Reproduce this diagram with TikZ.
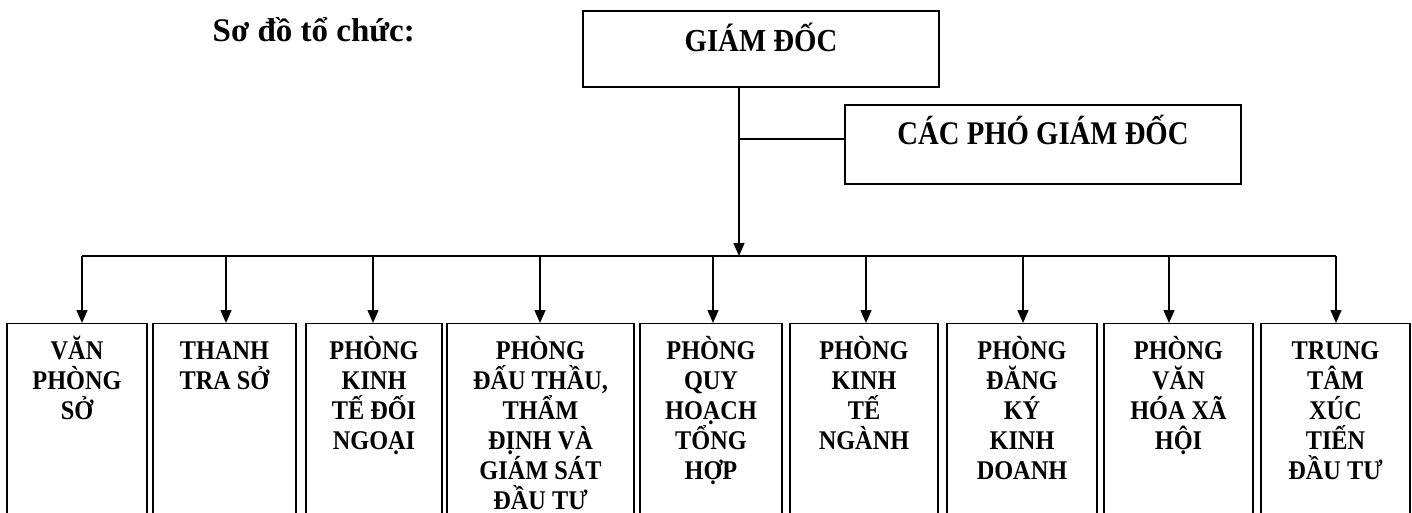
\documentclass[tikz,border=0pt]{standalone}
\usepackage{fontspec}
\setmainfont{Liberation Serif}
\newfontfamily\narrowserif[FakeStretch=0.9]{Liberation Serif}
\newfontfamily\narrowerserif[FakeStretch=0.87]{Liberation Serif}
\usetikzlibrary{arrows.meta}
\begin{document}
\begin{tikzpicture}[x=1pt,y=-1pt,
  line width=1.4pt,
  arr/.style={-{Triangle[length=13pt,width=11pt]}},
  topbox/.style={draw, rectangle, inner sep=0pt},
  deptbox/.style={draw, rectangle, inner sep=0pt, anchor=north, minimum height=230pt},
  depttext/.style={anchor=north, align=center, inner sep=0pt, font=\narrowserif\bfseries\fontsize{27}{30}\selectfont},
  titletext/.style={anchor=base west, inner sep=0pt, font=\bfseries\fontsize{33}{40}\selectfont},
]
\useasboundingbox (0,0) rectangle (1412,513);
\clip (0,0) rectangle (1412,513);

\node[titletext] (title) at (212,42) {Sơ đồ tổ chức:};

\node[topbox, font=\narrowserif\bfseries\fontsize{32}{38}\selectfont, minimum width=356pt, minimum height=76pt, text height=22pt, text depth=16pt] (gd) at (761,49) {GIÁM ĐỐC};
\node[topbox, font=\narrowerserif\bfseries\fontsize{33}{40}\selectfont, minimum width=396pt, minimum height=79pt, text height=20pt, text depth=20pt] (pgd) at (1043,144.5) {CÁC PHÓ GIÁM ĐỐC};

\coordinate (m) at (739,256);
\coordinate (j) at (739,139);
\draw[arr] (gd.south -| m) -- (m);
\draw (j) -- (pgd.west |- j);

\foreach \i/\l/\r/\d/\t in {
  1/7/147/82/{VĂN\\PHÒNG\\SỞ},
  2/153/296/226/{THANH\\TRA SỞ},
  3/306/442/373/{PHÒNG\\KINH\\TẾ ĐỐI\\NGOẠI},
  4/447/634/540/{PHÒNG\\ĐẤU THẦU,\\THẨM\\ĐỊNH VÀ\\GIÁM SÁT\\ĐẦU TƯ},
  5/640/782/713/{PHÒNG\\QUY\\HOẠCH\\TỔNG\\HỢP},
  6/790/938/866/{PHÒNG\\KINH\\TẾ\\NGÀNH},
  7/947/1097/1023/{PHÒNG\\ĐĂNG\\KÝ\\KINH\\DOANH},
  8/1104/1253/1169/{PHÒNG\\VĂN\\HÓA XÃ\\HỘI},
  9/1261/1410/1336/{TRUNG\\TÂM\\XÚC\\TIẾN\\ĐẦU TƯ}}{
  \pgfmathsetmacro\cx{(\l+\r)/2}
  \pgfmathsetmacro\w{\r-\l}
  \node[deptbox, minimum width=\w pt] (b\i) at (\cx,323) {};
  \node[depttext] (t\i) at (\cx,335) {\rule{0pt}{24pt}\t};
  \coordinate (d\i) at (\d,256);
  \draw[arr] (d\i) -- (d\i |- b\i.north);
}
\draw (d1) -- (d9);
\end{tikzpicture}
\end{document}
